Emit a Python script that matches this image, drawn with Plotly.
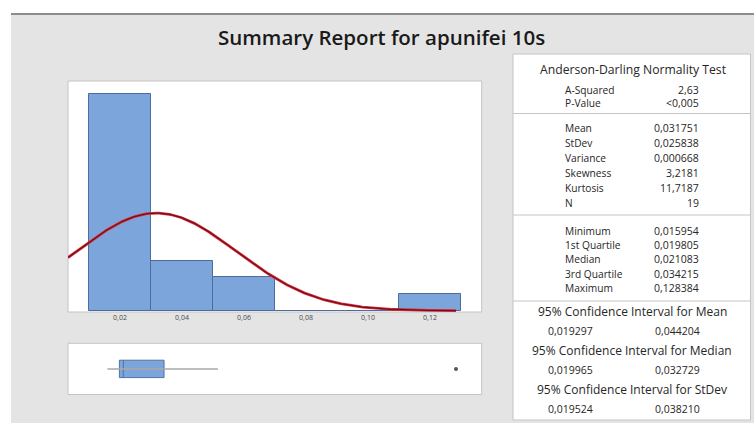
import numpy as np
import plotly.graph_objects as go

W, H = 754, 423

# ---------------- data ----------------
bin_centers = [0.02, 0.04, 0.06, 0.08, 0.10, 0.12]
bin_counts = [13, 3, 2, 0, 0, 1]
bin_width = 0.02

n_obs = 19
mean_val = 0.031751
stdev_val = 0.025838
minimum = 0.015954
q1 = 0.019805
median = 0.021083
q3 = 0.034215
maximum = 0.128384
upper_whisker = 0.0516  # largest non-outlier value (estimated)
outliers = [0.128384]

tick_vals = [0.02, 0.04, 0.06, 0.08, 0.10, 0.12]
tick_text = ["0,02", "0,04", "0,06", "0,08", "0,10", "0,12"]

title_text = "Summary Report for apunifei 10s"

ad_header = "Anderson-Darling Normality Test"
ad_labels = ["A-Squared", "P-Value"]
ad_values = ["2,63", "<0,005"]

desc_labels = ["Mean", "StDev", "Variance", "Skewness", "Kurtosis", "N"]
desc_values = ["0,031751", "0,025838", "0,000668", "3,2181", "11,7187", "19"]

quart_labels = ["Minimum", "1st Quartile", "Median", "3rd Quartile", "Maximum"]
quart_values = ["0,015954", "0,019805", "0,021083", "0,034215", "0,128384"]

ci_titles = ["95% Confidence Interval for Mean",
             "95% Confidence Interval for Median",
             "95% Confidence Interval for StDev"]
ci_low = ["0,019297", "0,019965", "0,019524"]
ci_high = ["0,044204", "0,032729", "0,038210"]

# ---------------- layout helpers ----------------
def px(x):
    return x / W

def py(y):
    return 1 - y / H

X_RANGE = [0.00323, 0.13668]
PANEL_L, PANEL_R = 68, 481.7
HIST_T, HIST_B = 81, 312
BOX_T, BOX_B = 343.3, 394.5
TAB_L, TAB_R, TAB_T, TAB_B = 513, 750.5, 54, 420

BAR_FILL = "#7ba5db"
BAR_EDGE = "#4d6c98"
TXT = "#262626"
FONT = "Open Sans"

fig = go.Figure()

# histogram bars
fig.add_trace(go.Bar(
    x=bin_centers, y=bin_counts, width=[bin_width] * len(bin_centers),
    marker=dict(color=BAR_FILL, line=dict(color=BAR_EDGE, width=1)),
    xaxis="x", yaxis="y", showlegend=False, hoverinfo="skip"))

# fitted normal curve from table mean / stdev
xc = np.linspace(X_RANGE[0], maximum, 300)
yc = n_obs * bin_width * np.exp(-0.5 * ((xc - mean_val) / stdev_val) ** 2) / (stdev_val * np.sqrt(2 * np.pi))
fig.add_trace(go.Scatter(x=xc, y=yc, mode="lines", line=dict(color="#e0303a", width=2.8),
                         xaxis="x", yaxis="y", showlegend=False, hoverinfo="skip"))
fig.add_trace(go.Scatter(x=xc, y=yc, mode="lines", line=dict(color="#6e1020", width=1.3),
                         xaxis="x", yaxis="y", showlegend=False, hoverinfo="skip"))

# boxplot: whisker line then box
fig.add_trace(go.Scatter(x=[minimum, upper_whisker], y=[0, 0], mode="lines",
                         line=dict(color="#a9a9a9", width=1.5),
                         xaxis="x2", yaxis="y2", showlegend=False, hoverinfo="skip"))
fig.add_trace(go.Box(
    y=[0], orientation="h",
    q1=[q1], median=[median], q3=[q3], lowerfence=[q1], upperfence=[q3],
    width=0.68, whiskerwidth=0,
    fillcolor=BAR_FILL, line=dict(color="#52729f", width=1),
    xaxis="x2", yaxis="y2", showlegend=False, hoverinfo="skip"))
fig.add_trace(go.Scatter(x=outliers, y=[0] * len(outliers), mode="markers",
                         marker=dict(color="#555555", size=4),
                         xaxis="x2", yaxis="y2", showlegend=False, hoverinfo="skip"))

# ---------------- shapes ----------------
shapes = []
shapes.append(dict(type="rect", xref="paper", yref="paper", x0=px(11), x1=1, y0=0, y1=py(14),
                   fillcolor="#e4e4e4", line=dict(width=0), layer="below"))
shapes.append(dict(type="line", xref="paper", yref="paper", x0=px(11), x1=1, y0=py(14), y1=py(14),
                   line=dict(color="#8c8c8c", width=2), layer="below"))
for (t, b) in [(HIST_T, HIST_B), (BOX_T, BOX_B)]:
    shapes.append(dict(type="rect", xref="paper", yref="paper", x0=px(PANEL_L), x1=px(PANEL_R),
                       y0=py(b), y1=py(t), fillcolor="white",
                       line=dict(color="#c4c4c4", width=1), layer="below"))
shapes.append(dict(type="rect", xref="paper", yref="paper", x0=px(TAB_L), x1=px(TAB_R),
                   y0=py(TAB_B), y1=py(TAB_T), fillcolor="white",
                   line=dict(color="#c4c4c4", width=1), layer="below"))
for ysep in [113.5, 215, 301]:
    shapes.append(dict(type="line", xref="paper", yref="paper", x0=px(TAB_L), x1=px(TAB_R),
                       y0=py(ysep), y1=py(ysep), line=dict(color="#c4c4c4", width=1), layer="below"))

# ---------------- annotations ----------------
ann = []
def text(x, y, s, anchor="left", size=10.5, color=TXT, weight=None):
    f = dict(family=FONT, size=size, color=color)
    if weight:
        f["weight"] = weight
    ann.append(dict(xref="paper", yref="paper", x=px(x), y=py(y), text=s, showarrow=False,
                    xanchor=anchor, yanchor="middle", font=f))

text(381, 37, title_text, anchor="center", size=20.5, color="#1a1a1a", weight=600)

LAB_X, VAL_X = 563, 701
HEAD_SIZE, LAB_SIZE, VAL_SIZE = 12.2, 10.2, 10.5
text(633, 69, ad_header, anchor="center", size=HEAD_SIZE)
for i, (l, v) in enumerate(zip(ad_labels, ad_values)):
    yy = 90 + i * 13.5
    text(LAB_X, yy, l, size=LAB_SIZE)
    text(VAL_X, yy, v, anchor="right", size=VAL_SIZE)
for i, (l, v) in enumerate(zip(desc_labels, desc_values)):
    yy = 128.3 + i * 15
    text(LAB_X, yy, l, size=LAB_SIZE)
    text(VAL_X, yy, v, anchor="right", size=VAL_SIZE)
for i, (l, v) in enumerate(zip(quart_labels, quart_values)):
    yy = 231 + i * 14.2
    text(LAB_X, yy, l, size=LAB_SIZE)
    text(VAL_X, yy, v, anchor="right", size=VAL_SIZE)
for i, (t, lo, hi) in enumerate(zip(ci_titles, ci_low, ci_high)):
    yy = 311.5 + i * 39
    text(632, yy, t, anchor="center", size=HEAD_SIZE - 0.2)
    text(570, yy + 19.5, lo, anchor="center", size=VAL_SIZE)
    text(677, yy + 19.5, hi, anchor="center", size=VAL_SIZE)

fig.update_layout(
    width=W, height=H, margin=dict(l=0, r=0, t=0, b=0),
    paper_bgcolor="white", plot_bgcolor="rgba(0,0,0,0)",
    shapes=shapes, annotations=ann, bargap=0,
    xaxis=dict(domain=[px(PANEL_L), px(PANEL_R)], range=X_RANGE, showgrid=False, zeroline=False,
               showline=False, tickvals=tick_vals, ticktext=tick_text, ticks="",
               tickfont=dict(family=FONT, size=7, color="#4a4a4a"), fixedrange=True),
    yaxis=dict(domain=[py(HIST_B), py(HIST_T)], range=[-0.08, 13.8], showgrid=False,
               zeroline=False, showline=False, showticklabels=False, fixedrange=True),
    xaxis2=dict(domain=[px(PANEL_L), px(PANEL_R)], range=X_RANGE, showgrid=False, zeroline=False,
                showline=False, showticklabels=False, anchor="y2", fixedrange=True),
    yaxis2=dict(domain=[py(BOX_B), py(BOX_T)], range=[-1, 1], showgrid=False, zeroline=False,
                showline=False, showticklabels=False, anchor="x2", fixedrange=True),
)

fig.write_html("out.html", config={"displayModeBar": False},
               post_script="document.body.style.margin='0px';document.body.style.overflow='hidden';")
